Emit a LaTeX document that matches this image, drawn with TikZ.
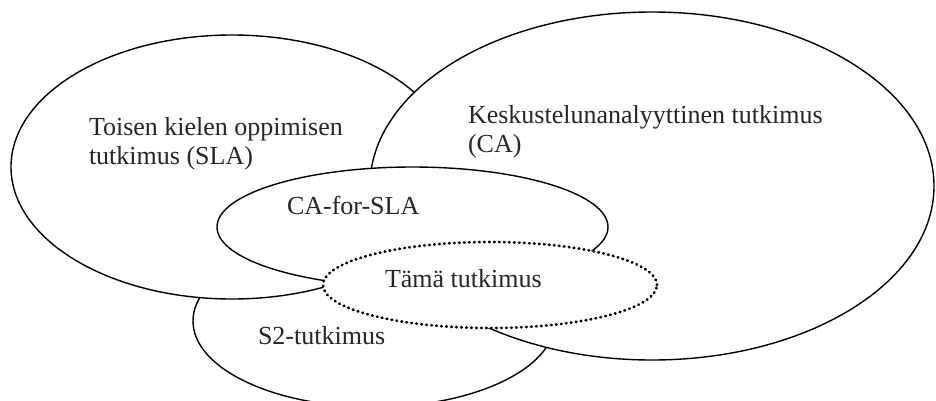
\documentclass[tikz,border=0pt]{standalone}
\usepackage{fontspec}
\setmainfont{Liberation Serif}
\usetikzlibrary{shapes.geometric}
\tikzset{
  blob/.style={ellipse, draw=black, fill=white, line width=1.4pt, inner sep=0pt, outer sep=0pt},
  dotblob/.style={blob, dash pattern=on 0.6pt off 4.4pt, line cap=round, line width=2.8pt},
  lbl/.style={inner sep=0pt, outer sep=0pt, anchor=base west, text=black!85, align=left,
    font=\fontsize{26}{29}\selectfont}
}
\begin{document}
\begin{tikzpicture}[x=1pt,y=-1pt]
\useasboundingbox (0,0) rectangle (936,400);
\clip (0,0) rectangle (936,400);
\node[blob, minimum width=362pt, minimum height=172pt] (s2) at (374,321) {};
\node[blob, minimum width=442pt, minimum height=264pt] (sla) at (232,167) {};
\node[blob, minimum width=564pt, minimum height=348pt] (ca) at (652,186) {};
\node[blob, minimum width=391pt, minimum height=120pt] (cafs) at (412.5,227) {};
\node[dotblob, minimum width=334pt, minimum height=86pt] (tama) at (490,285) {};
\node[lbl] (tsla) at (89,164) {Toisen kielen oppimisen\\tutkimus (SLA)};
\node[lbl] (tca) at (468,152) {Keskustelunanalyyttinen tutkimus\\(CA)};
\node[lbl] (tcafs) at (287,214) {CA-for-SLA};
\node[lbl] (ttama) at (385,287) {Tämä tutkimus};
\node[lbl] (ts2) at (258,344) {S2-tutkimus};
\end{tikzpicture}
\end{document}
